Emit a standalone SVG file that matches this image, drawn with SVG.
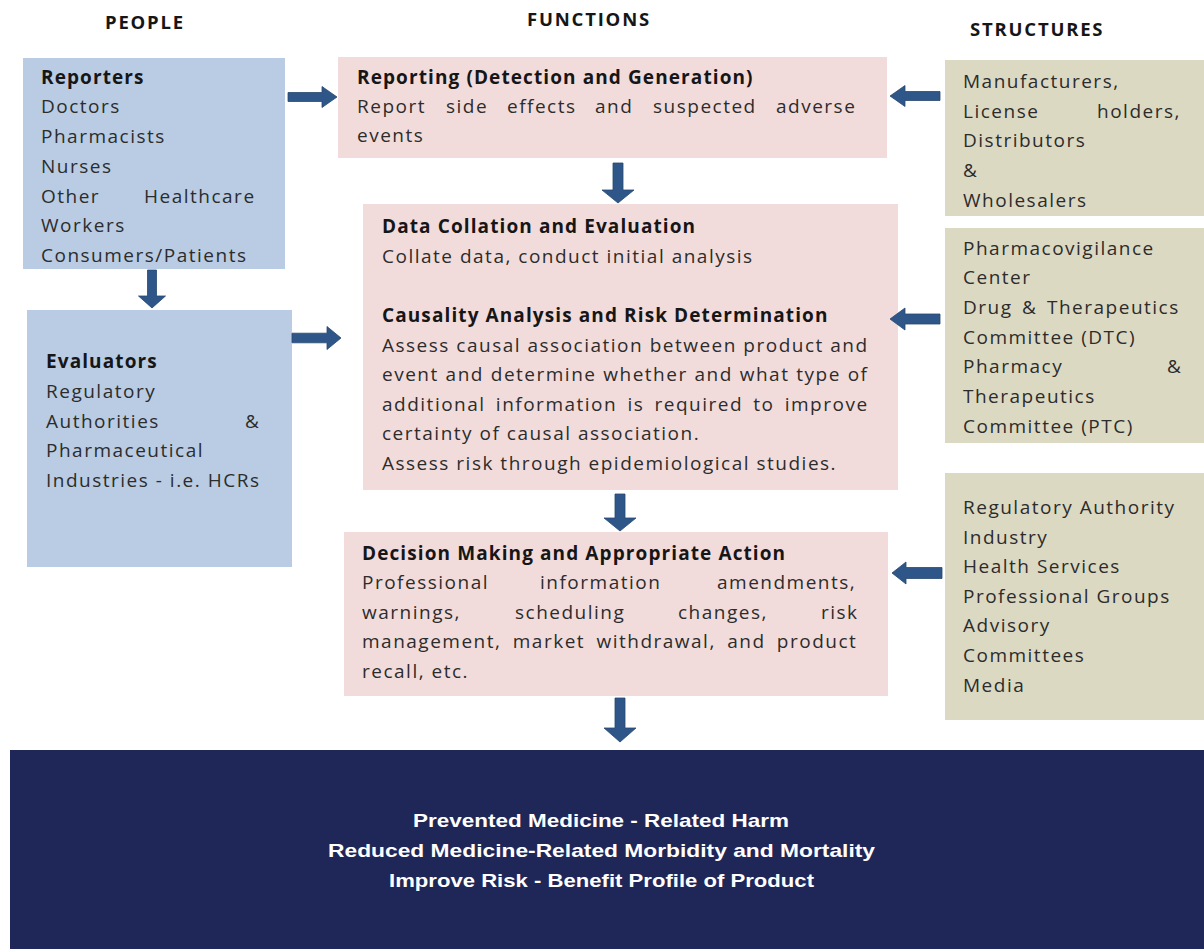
<svg xmlns="http://www.w3.org/2000/svg" width="1204" height="949" viewBox="0 0 1204 949">
<style>
  text { font-family: "Open Sans", "Liberation Sans", sans-serif; font-size: 19px; letter-spacing: 1.5px; fill: #2c2c2c; }
  .b { font-weight: bold; fill: #161616; letter-spacing: 1.1px; }
  .h { font-weight: bold; fill: #161616; font-size: 18.5px; letter-spacing: 1.8px; }
  .w { font-family: "Liberation Sans", "Open Sans", sans-serif; font-weight: bold; fill: #ffffff; font-size: 19px; letter-spacing: 0; }
  .blue { fill: #b9cce4; }
  .pink { fill: #f2dcdb; }
  .tan { fill: #dcd9c3; }
  .navy { fill: #1f2758; }
  .arrow { fill: #2f5689; stroke: #27476f; stroke-width: 0.8; }
</style>

<g id="headers">
  <text class="h" x="105" y="29">PEOPLE</text>
  <text class="h" x="527" y="26">FUNCTIONS</text>
  <text class="h" x="970" y="35.5">STRUCTURES</text>
</g>

<g id="reporters">
  <rect class="blue" x="23" y="58" width="262" height="211"/>
  <text class="b" x="41" y="83.5">Reporters</text>
  <text x="41" y="113">Doctors</text>
  <text x="41" y="142.5">Pharmacists</text>
  <text x="41" y="172.5">Nurses</text>
  <text y="202.5"><tspan x="41">Other</tspan><tspan x="144">Healthcare</tspan></text>
  <text x="41" y="231.5">Workers</text>
  <text x="41" y="261.5">Consumers/Patients</text>
</g>

<g id="evaluators">
  <rect class="blue" x="27" y="310" width="265" height="257"/>
  <text class="b" x="46" y="368">Evaluators</text>
  <text x="46" y="397.8">Regulatory</text>
  <text y="427.6"><tspan x="46">Authorities</tspan><tspan x="245">&amp;</tspan></text>
  <text x="46" y="457.4">Pharmaceutical</text>
  <text x="46" y="487.2">Industries - i.e. HCRs</text>
</g>

<g id="reporting">
  <rect class="pink" x="338" y="57" width="549" height="101"/>
  <text class="b" x="357" y="84">Reporting (Detection and Generation)</text>
  <text y="113.3"><tspan x="357">Report</tspan><tspan x="446">side</tspan><tspan x="507">effects</tspan><tspan x="595">and</tspan><tspan x="653">suspected</tspan><tspan x="776">adverse</tspan></text>
  <text x="357" y="142">events</text>
</g>

<g id="data-collation">
  <rect class="pink" x="363" y="204" width="535" height="286"/>
  <text class="b" x="382" y="233">Data Collation and Evaluation</text>
  <text x="382" y="262.5">Collate data, conduct initial analysis</text>
  <text class="b" x="382" y="321.5">Causality Analysis and Risk Determination</text>
  <text x="382" y="351.5">Assess causal association between product and</text>
  <text x="382" y="381" word-spacing="0.4">event and determine whether and what type of</text>
  <text x="382" y="410.5" word-spacing="3.8">additional information is required to improve</text>
  <text x="382" y="440">certainty of causal association.</text>
  <text x="382" y="469.5">Assess risk through epidemiological studies.</text>
</g>

<g id="decision">
  <rect class="pink" x="344" y="532" width="544" height="164"/>
  <text class="b" x="362" y="559.5">Decision Making and Appropriate Action</text>
  <text y="589"><tspan x="362">Professional</tspan><tspan x="540">information</tspan><tspan x="717">amendments,</tspan></text>
  <text y="618.5"><tspan x="362">warnings,</tspan><tspan x="515">scheduling</tspan><tspan x="678">changes,</tspan><tspan x="821">risk</tspan></text>
  <text x="362" y="648" word-spacing="4.9">management, market withdrawal, and product</text>
  <text x="362" y="677.5">recall, etc.</text>
</g>

<g id="structures-1">
  <rect class="tan" x="945" y="60" width="259" height="156"/>
  <text x="963" y="88">Manufacturers,</text>
  <text y="117.5"><tspan x="963">License</tspan><tspan x="1097">holders,</tspan></text>
  <text x="963" y="147">Distributors</text>
  <text x="963" y="176.7">&amp;</text>
  <text x="963" y="206.5">Wholesalers</text>
</g>

<g id="structures-2">
  <rect class="tan" x="945" y="228" width="259" height="215"/>
  <text x="963" y="254.5">Pharmacovigilance</text>
  <text x="963" y="284.3">Center</text>
  <text y="314"><tspan x="963">Drug</tspan><tspan x="1022">&amp;</tspan><tspan x="1047">Therapeutics</tspan></text>
  <text x="963" y="343.5">Committee (DTC)</text>
  <text y="373.3"><tspan x="963">Pharmacy</tspan><tspan x="1167">&amp;</tspan></text>
  <text x="963" y="403">Therapeutics</text>
  <text x="963" y="432.5">Committee (PTC)</text>
</g>

<g id="structures-3">
  <rect class="tan" x="945" y="473" width="259" height="247"/>
  <text x="963" y="514">Regulatory Authority</text>
  <text x="963" y="543.5">Industry</text>
  <text x="963" y="573">Health Services</text>
  <text x="963" y="602.5">Professional Groups</text>
  <text x="963" y="632">Advisory</text>
  <text x="963" y="661.5">Committees</text>
  <text x="963" y="691.5">Media</text>
</g>

<g id="outcomes">
  <rect class="navy" x="10" y="750" width="1194" height="199"/>
  <text class="w" x="413" y="826.5" textLength="376" lengthAdjust="spacingAndGlyphs">Prevented Medicine - Related Harm</text>
  <text class="w" x="328" y="856.5" textLength="547" lengthAdjust="spacingAndGlyphs">Reduced Medicine-Related Morbidity and Mortality</text>
  <text class="w" x="389" y="886.5" textLength="425" lengthAdjust="spacingAndGlyphs">Improve Risk - Benefit Profile of Product</text>
</g>

<g id="connectors">
  <polygon class="arrow" points="288,92.5 322,92.5 322,86.5 337,97 322,107.5 322,101.5 288,101.5"/>
  <polygon class="arrow" points="292,333.2 327,333.2 327,326.5 341,338 327,349.5 327,342.8 292,342.8"/>
  <polygon class="arrow" points="147.5,270 156.5,270 156.5,296 165.5,296 152,308 138.5,296 147.5,296"/>
  <polygon class="arrow" points="613,163 623,163 623,190 634,190 618,203 602,190 613,190"/>
  <polygon class="arrow" points="615,494 625,494 625,518 636,518 620,531 604,518 615,518"/>
  <polygon class="arrow" points="615,698 625,698 625,728 636,728 620,742 604,728 615,728"/>
  <polygon class="arrow" points="940,91.5 905,91.5 905,85.5 890,96 905,106.5 905,100.5 940,100.5"/>
  <polygon class="arrow" points="940,314 905,314 905,308 890,319 905,330 905,324 940,324"/>
  <polygon class="arrow" points="942,567.5 906,567.5 906,562 892,573 906,584 906,578.5 942,578.5"/>
</g>
</svg>
